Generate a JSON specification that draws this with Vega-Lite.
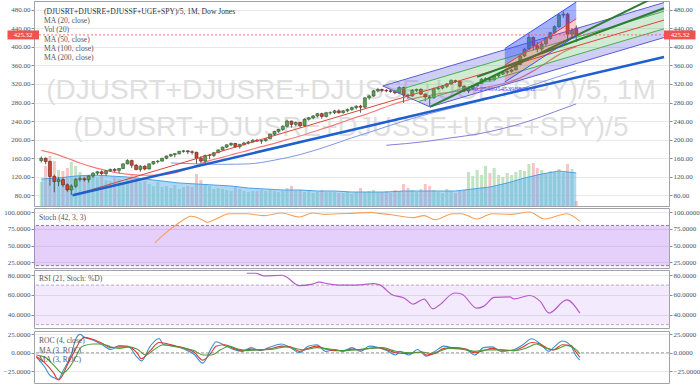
{
"$schema": "https://vega.github.io/schema/vega-lite/v6.json",
"background": "#ffffff",
"padding": 0,
"spacing": 0,
"resolve": {"scale": {"color": "independent"}},
"config": {
  "view": {"stroke": "#a0a3ab", "strokeWidth": 1},
  "axis": {"labelFont": "Liberation Sans Narrow", "labelFontSize": 7, "labelColor": "#4c525e", "gridColor": "#e8e8e8", "gridWidth": 1, "tickColor": "#8a8d94", "tickSize": 3, "domain": false, "labelPadding": 1, "title": null}
},
"datasets": {
"candles": [
{"d":"2008-08-01","o":155,"h":164,"l":151,"c":160,"v":24},
{"d":"2008-09-01","o":160,"h":162,"l":147,"c":153,"v":40},
{"d":"2008-10-01","o":153,"h":155,"l":101,"c":121,"v":50},
{"d":"2008-11-01","o":121,"h":125,"l":87,"c":110,"v":45},
{"d":"2008-12-01","o":110,"h":120,"l":100,"c":114,"v":36},
{"d":"2009-01-01","o":114,"h":118,"l":98,"c":103,"v":35},
{"d":"2009-02-01","o":103,"h":106,"l":88,"c":92,"v":38},
{"d":"2009-03-01","o":92,"h":104,"l":81,"c":100,"v":44},
{"d":"2009-04-01","o":100,"h":117,"l":96,"c":115,"v":40},
{"d":"2009-05-01","o":115,"h":121,"l":110,"c":116,"v":34},
{"d":"2009-06-01","o":116,"h":119,"l":110,"c":114,"v":30},
{"d":"2009-07-01","o":114,"h":123,"l":108,"c":122,"v":30},
{"d":"2009-08-01","o":122,"h":130,"l":118,"c":128,"v":31},
{"d":"2009-09-01","o":128,"h":133,"l":124,"c":131,"v":28},
{"d":"2009-10-01","o":131,"h":134,"l":124,"c":127,"v":30},
{"d":"2009-11-01","o":127,"h":134,"l":122,"c":133,"v":26},
{"d":"2009-12-01","o":133,"h":138,"l":131,"c":136,"v":25},
{"d":"2010-01-01","o":136,"h":139,"l":130,"c":134,"v":29},
{"d":"2010-02-01","o":134,"h":139,"l":128,"c":138,"v":27},
{"d":"2010-03-01","o":138,"h":149,"l":137,"c":148,"v":24},
{"d":"2010-04-01","o":148,"h":158,"l":147,"c":155,"v":27},
{"d":"2010-05-01","o":155,"h":157,"l":139,"c":145,"v":31},
{"d":"2010-06-01","o":145,"h":148,"l":134,"c":136,"v":28},
{"d":"2010-07-01","o":136,"h":145,"l":131,"c":143,"v":24},
{"d":"2010-08-01","o":143,"h":145,"l":134,"c":137,"v":25},
{"d":"2010-09-01","o":137,"h":149,"l":136,"c":148,"v":22},
{"d":"2010-10-01","o":148,"h":154,"l":146,"c":153,"v":20},
{"d":"2010-11-01","o":153,"h":156,"l":149,"c":154,"v":24},
{"d":"2010-12-01","o":154,"h":161,"l":153,"c":160,"v":19},
{"d":"2011-01-01","o":160,"h":166,"l":158,"c":165,"v":20},
{"d":"2011-02-01","o":165,"h":170,"l":163,"c":168,"v":18},
{"d":"2011-03-01","o":168,"h":171,"l":162,"c":170,"v":21},
{"d":"2011-04-01","o":170,"h":176,"l":168,"c":175,"v":17},
{"d":"2011-05-01","o":175,"h":178,"l":172,"c":176,"v":19},
{"d":"2011-06-01","o":176,"h":177,"l":169,"c":174,"v":20},
{"d":"2011-07-01","o":174,"h":177,"l":168,"c":173,"v":19},
{"d":"2011-08-01","o":173,"h":174,"l":148,"c":160,"v":32},
{"d":"2011-09-01","o":160,"h":165,"l":150,"c":154,"v":26},
{"d":"2011-10-01","o":154,"h":168,"l":145,"c":166,"v":22},
{"d":"2011-11-01","o":166,"h":169,"l":158,"c":166,"v":20},
{"d":"2011-12-01","o":166,"h":173,"l":163,"c":172,"v":17},
{"d":"2012-01-01","o":172,"h":179,"l":171,"c":178,"v":18},
{"d":"2012-02-01","o":178,"h":185,"l":176,"c":184,"v":17},
{"d":"2012-03-01","o":184,"h":190,"l":182,"c":189,"v":16},
{"d":"2012-04-01","o":189,"h":194,"l":186,"c":192,"v":15},
{"d":"2012-05-01","o":192,"h":193,"l":182,"c":185,"v":19},
{"d":"2012-06-01","o":185,"h":191,"l":181,"c":190,"v":17},
{"d":"2012-07-01","o":190,"h":195,"l":187,"c":193,"v":15},
{"d":"2012-08-01","o":193,"h":197,"l":190,"c":195,"v":14},
{"d":"2012-09-01","o":195,"h":201,"l":194,"c":199,"v":15},
{"d":"2012-10-01","o":199,"h":202,"l":195,"c":197,"v":15},
{"d":"2012-11-01","o":197,"h":199,"l":191,"c":198,"v":16},
{"d":"2012-12-01","o":198,"h":203,"l":196,"c":202,"v":15},
{"d":"2013-01-01","o":202,"h":213,"l":201,"c":212,"v":16},
{"d":"2013-02-01","o":212,"h":219,"l":209,"c":218,"v":15},
{"d":"2013-03-01","o":218,"h":223,"l":215,"c":222,"v":14},
{"d":"2013-04-01","o":222,"h":231,"l":219,"c":229,"v":15},
{"d":"2013-05-01","o":229,"h":243,"l":226,"c":240,"v":18},
{"d":"2013-06-01","o":240,"h":241,"l":226,"c":233,"v":20},
{"d":"2013-07-01","o":233,"h":239,"l":229,"c":237,"v":15},
{"d":"2013-08-01","o":237,"h":238,"l":226,"c":230,"v":16},
{"d":"2013-09-01","o":230,"h":246,"l":228,"c":244,"v":14},
{"d":"2013-10-01","o":244,"h":249,"l":241,"c":247,"v":15},
{"d":"2013-11-01","o":247,"h":253,"l":244,"c":251,"v":13},
{"d":"2013-12-01","o":251,"h":257,"l":248,"c":256,"v":14},
{"d":"2014-01-01","o":256,"h":258,"l":245,"c":250,"v":16},
{"d":"2014-02-01","o":250,"h":260,"l":248,"c":258,"v":14},
{"d":"2014-03-01","o":258,"h":261,"l":254,"c":258,"v":14},
{"d":"2014-04-01","o":258,"h":264,"l":255,"c":262,"v":14},
{"d":"2014-05-01","o":262,"h":265,"l":256,"c":258,"v":13},
{"d":"2014-06-01","o":258,"h":264,"l":256,"c":262,"v":13},
{"d":"2014-07-01","o":262,"h":267,"l":259,"c":265,"v":14},
{"d":"2014-08-01","o":265,"h":271,"l":262,"c":269,"v":12},
{"d":"2014-09-01","o":269,"h":274,"l":265,"c":272,"v":14},
{"d":"2014-10-01","o":272,"h":275,"l":258,"c":270,"v":18},
{"d":"2014-11-01","o":270,"h":292,"l":268,"c":290,"v":14},
{"d":"2014-12-01","o":290,"h":297,"l":286,"c":294,"v":15},
{"d":"2015-01-01","o":294,"h":307,"l":292,"c":305,"v":16},
{"d":"2015-02-01","o":305,"h":311,"l":302,"c":308,"v":14},
{"d":"2015-03-01","o":308,"h":310,"l":302,"c":306,"v":14},
{"d":"2015-04-01","o":306,"h":309,"l":302,"c":305,"v":15},
{"d":"2015-05-01","o":305,"h":308,"l":301,"c":304,"v":13},
{"d":"2015-06-01","o":304,"h":306,"l":298,"c":301,"v":16},
{"d":"2015-07-01","o":301,"h":315,"l":299,"c":312,"v":15},
{"d":"2015-08-01","o":312,"h":314,"l":279,"c":296,"v":22},
{"d":"2015-09-01","o":296,"h":299,"l":287,"c":294,"v":18},
{"d":"2015-10-01","o":294,"h":309,"l":292,"c":306,"v":16},
{"d":"2015-11-01","o":306,"h":310,"l":302,"c":308,"v":14},
{"d":"2015-12-01","o":308,"h":311,"l":296,"c":298,"v":17},
{"d":"2016-01-01","o":298,"h":300,"l":283,"c":292,"v":22},
{"d":"2016-02-01","o":292,"h":295,"l":272,"c":290,"v":20},
{"d":"2016-03-01","o":290,"h":312,"l":288,"c":310,"v":16},
{"d":"2016-04-01","o":310,"h":314,"l":307,"c":311,"v":14},
{"d":"2016-05-01","o":311,"h":317,"l":308,"c":315,"v":13},
{"d":"2016-06-01","o":315,"h":322,"l":311,"c":320,"v":17},
{"d":"2016-07-01","o":320,"h":330,"l":318,"c":327,"v":15},
{"d":"2016-08-01","o":327,"h":329,"l":322,"c":325,"v":13},
{"d":"2016-09-01","o":325,"h":327,"l":312,"c":315,"v":16},
{"d":"2016-10-01","o":315,"h":317,"l":302,"c":305,"v":16},
{"d":"2016-11-01","o":305,"h":313,"l":300,"c":310,"v":34},
{"d":"2016-12-01","o":310,"h":318,"l":307,"c":316,"v":30},
{"d":"2017-01-01","o":316,"h":323,"l":314,"c":321,"v":36},
{"d":"2017-02-01","o":321,"h":332,"l":320,"c":330,"v":31},
{"d":"2017-03-01","o":330,"h":334,"l":325,"c":331,"v":40},
{"d":"2017-04-01","o":331,"h":333,"l":324,"c":329,"v":33},
{"d":"2017-05-01","o":329,"h":339,"l":327,"c":337,"v":38},
{"d":"2017-06-01","o":337,"h":343,"l":334,"c":341,"v":31},
{"d":"2017-07-01","o":341,"h":347,"l":339,"c":345,"v":29},
{"d":"2017-08-01","o":345,"h":349,"l":340,"c":347,"v":33},
{"d":"2017-09-01","o":347,"h":352,"l":344,"c":350,"v":31},
{"d":"2017-10-01","o":350,"h":364,"l":349,"c":362,"v":34},
{"d":"2017-11-01","o":362,"h":382,"l":360,"c":380,"v":36},
{"d":"2017-12-01","o":380,"h":397,"l":378,"c":395,"v":35},
{"d":"2018-01-01","o":395,"h":428,"l":393,"c":420,"v":42},
{"d":"2018-02-01","o":420,"h":422,"l":392,"c":402,"v":43},
{"d":"2018-03-01","o":402,"h":410,"l":388,"c":395,"v":38},
{"d":"2018-04-01","o":395,"h":410,"l":390,"c":406,"v":36},
{"d":"2018-05-01","o":406,"h":420,"l":402,"c":418,"v":33},
{"d":"2018-06-01","o":418,"h":432,"l":415,"c":430,"v":35},
{"d":"2018-07-01","o":430,"h":446,"l":428,"c":443,"v":34},
{"d":"2018-08-01","o":443,"h":472,"l":440,"c":468,"v":37},
{"d":"2018-09-01","o":468,"h":476,"l":462,"c":470,"v":33},
{"d":"2018-10-01","o":470,"h":473,"l":412,"c":427,"v":42},
{"d":"2018-11-01","o":427,"h":440,"l":418,"c":435,"v":37},
{"d":"2018-12-01","o":440,"h":446,"l":410,"c":425.32,"v":5}
],
"volma": [
{"d":"2008-08-01","v":27},{"d":"2008-12-01","v":28},{"d":"2009-04-01","v":30},{"d":"2009-08-01","v":31},{"d":"2009-12-01","v":30},
{"d":"2010-04-01","v":29},{"d":"2010-08-01","v":27},{"d":"2010-12-01","v":25},{"d":"2011-04-01","v":23},{"d":"2011-08-01","v":22},
{"d":"2011-12-01","v":21},{"d":"2012-04-01","v":20},{"d":"2012-08-01","v":18},{"d":"2012-12-01","v":17},{"d":"2013-04-01","v":16},
{"d":"2013-08-01","v":16},{"d":"2013-12-01","v":15},{"d":"2014-04-01","v":15},{"d":"2014-08-01","v":14},{"d":"2014-12-01","v":14},
{"d":"2015-04-01","v":14},{"d":"2015-08-01","v":15},{"d":"2015-12-01","v":15},{"d":"2016-04-01","v":15},{"d":"2016-08-01","v":15},
{"d":"2016-12-01","v":17},{"d":"2017-04-01","v":19},{"d":"2017-08-01","v":23},{"d":"2017-12-01","v":28},{"d":"2018-04-01","v":32},
{"d":"2018-08-01","v":35},{"d":"2018-12-01","v":33}
],
"ma20": [
{"d":"2008-08-01","v":177},{"d":"2008-11-01","v":170},{"d":"2009-02-01","v":160},{"d":"2009-05-01","v":150},{"d":"2009-08-01","v":141},
{"d":"2009-11-01","v":134},{"d":"2010-02-01","v":128},{"d":"2010-05-01","v":125},{"d":"2010-08-01","v":123.5},{"d":"2010-11-01","v":124},
{"d":"2011-02-01","v":127},{"d":"2011-05-01","v":134},{"d":"2011-08-01","v":145},{"d":"2011-11-01","v":155},{"d":"2012-02-01","v":162},
{"d":"2012-05-01","v":170},{"d":"2012-08-01","v":177},{"d":"2012-11-01","v":185},{"d":"2013-02-01","v":192},{"d":"2013-05-01","v":200},
{"d":"2013-08-01","v":208},{"d":"2013-11-01","v":217},{"d":"2014-02-01","v":226},{"d":"2014-05-01","v":235},{"d":"2014-08-01","v":245},
{"d":"2014-11-01","v":254},{"d":"2015-02-01","v":264},{"d":"2015-05-01","v":274},{"d":"2015-08-01","v":283},{"d":"2015-11-01","v":290},
{"d":"2016-02-01","v":295},{"d":"2016-05-01","v":300},{"d":"2016-08-01","v":304},{"d":"2016-11-01","v":307},{"d":"2017-02-01","v":311},
{"d":"2017-05-01","v":316},{"d":"2017-08-01","v":323},{"d":"2017-11-01","v":333},{"d":"2018-02-01","v":348},{"d":"2018-05-01","v":365},
{"d":"2018-08-01","v":383},{"d":"2018-10-01","v":393},{"d":"2018-12-01","v":400}
],
"ma50": [
{"d":"2011-02-01","v":150},{"d":"2011-08-01","v":148},{"d":"2012-02-01","v":147},{"d":"2012-08-01","v":148},{"d":"2013-02-01","v":156},
{"d":"2013-08-01","v":168},{"d":"2014-02-01","v":185},{"d":"2014-08-01","v":204},{"d":"2015-02-01","v":222},{"d":"2015-08-01","v":240},
{"d":"2016-02-01","v":256},{"d":"2016-08-01","v":270},{"d":"2017-02-01","v":284},{"d":"2017-08-01","v":300},{"d":"2018-02-01","v":318},
{"d":"2018-08-01","v":336},{"d":"2018-12-01","v":348}
],
"ma100": [
{"d":"2015-04-01","v":188},{"d":"2016-01-01","v":196},{"d":"2016-07-01","v":204},{"d":"2017-01-01","v":212},{"d":"2017-07-01","v":224},
{"d":"2018-01-01","v":240},{"d":"2018-07-01","v":260},{"d":"2018-12-01","v":277}
],
"pfbands": [
{"d":"2015-03-07","s":"u","top":315.6,"bot":315.6},{"d":"2015-05-29","s":"u","top":323.2,"bot":304.3},{"d":"2020-08-11","s":"u","top":494.9,"bot":476.1},
{"d":"2015-05-29","s":"g","top":304.3,"bot":304.3},{"d":"2015-11-11","s":"g","top":319.4,"bot":281.8},{"d":"2020-08-11","s":"g","top":476.1,"bot":438.5},
{"d":"2015-11-11","s":"l","top":281.8,"bot":281.8},{"d":"2016-02-03","s":"l","top":289.3,"bot":270.5},{"d":"2020-08-11","s":"l","top":438.5,"bot":419.7}
],
"pflines": [
{"d":"2015-03-07","s":"tineU","v":315.6},{"d":"2020-08-11","s":"tineU","v":494.9},
{"d":"2015-03-07","s":"p23","v":315.6},{"d":"2016-02-03","s":"p23","v":270.5},
{"d":"2015-05-29","s":"halfU","v":304.3},{"d":"2020-08-11","s":"halfU","v":476.1},
{"d":"2015-11-11","s":"halfL","v":281.8},{"d":"2020-08-11","s":"halfL","v":438.5},
{"d":"2016-02-03","s":"tineL","v":270.5},{"d":"2020-08-11","s":"tineL","v":419.7},
{"d":"2009-03-10","s":"median","v":80.4},{"d":"2015-08-20","s":"median","v":292.9},{"d":"2020-08-11","s":"median","v":457.3}
],
"trend": [
{"d":"2009-03-10","s":"blue","v":80.4},{"d":"2020-08-11","s":"blue","v":377.8}
],
"greens": [
{"d":"2016-02-03","s":"g1","v":270.5},{"d":"2020-08-11","s":"g1","v":516},
{"d":"2017-01-01","s":"g2","v":335},{"d":"2020-08-11","s":"g2","v":482.6}
],
"regbands": [
{"d":"2017-07-15","s":"up","top":396,"bot":360},{"d":"2018-12-01","s":"up","top":496,"bot":460},
{"d":"2017-07-15","s":"low","top":360,"bot":324},{"d":"2018-12-01","s":"low","top":460,"bot":424}
],
"reglines": [
{"d":"2017-07-15","s":"up","v":396},{"d":"2018-12-01","s":"up","v":496},
{"d":"2017-07-15","s":"mid","v":360},{"d":"2018-12-01","s":"mid","v":460},
{"d":"2017-07-15","s":"low","v":324},{"d":"2018-12-01","s":"low","v":424}
],
"stoch": [
{"d":"2010-11-01","v":54},{"d":"2011-01-01","v":66},{"d":"2011-04-01","v":81},{"d":"2011-07-15","v":93.6},{"d":"2011-10-01","v":88},
{"d":"2011-11-01","v":84.6},{"d":"2012-01-01","v":89.6},{"d":"2012-04-01","v":97.5},{"d":"2012-08-01","v":97.5},{"d":"2012-12-01","v":94.6},
{"d":"2013-04-01","v":98.5},{"d":"2013-08-01","v":92.5},{"d":"2013-11-01","v":98.5},{"d":"2014-02-01","v":96.5},{"d":"2014-05-01","v":97.5},
{"d":"2014-08-01","v":98},{"d":"2014-12-15","v":99.5},{"d":"2015-02-01","v":98},{"d":"2015-05-01","v":96},{"d":"2015-10-01","v":91.6},
{"d":"2015-12-15","v":94.6},{"d":"2016-03-01","v":88.6},{"d":"2016-07-01","v":97.5},{"d":"2016-09-01","v":97.5},{"d":"2016-12-15","v":89.6},
{"d":"2017-04-01","v":97.5},{"d":"2017-08-01","v":96.5},{"d":"2017-12-15","v":100},{"d":"2018-04-01","v":89.6},{"d":"2018-09-01","v":97.5},
{"d":"2018-12-01","v":86}
],
"rsi": [
{"d":"2012-08-01","v":82},{"d":"2012-10-01","v":82},{"d":"2012-12-01","v":79.3},{"d":"2013-04-01","v":80},{"d":"2013-05-01","v":78.5},
{"d":"2013-08-01","v":69.5},{"d":"2013-11-01","v":71},{"d":"2013-12-15","v":73},{"d":"2014-03-01","v":71},{"d":"2014-05-01","v":70},
{"d":"2014-09-01","v":70},{"d":"2015-01-01","v":71.6},{"d":"2015-02-15","v":70},{"d":"2015-05-01","v":60.8},{"d":"2015-08-01","v":56.8},
{"d":"2015-10-01","v":50.8},{"d":"2015-12-15","v":55.8},{"d":"2016-02-15","v":46},{"d":"2016-04-01","v":50},{"d":"2016-07-15","v":62},
{"d":"2016-09-01","v":61},{"d":"2016-12-15","v":46.7},{"d":"2017-02-01","v":48.5},{"d":"2017-04-15","v":57.5},{"d":"2017-08-01","v":58},
{"d":"2017-09-01","v":56},{"d":"2017-12-15","v":59.5},{"d":"2018-03-01","v":53.5},{"d":"2018-05-01","v":41.7},{"d":"2018-09-01","v":55},
{"d":"2018-12-01","v":41.7}
],
"roc": [
{"d":"2008-08-01","s":"roc","v":-6},{"d":"2008-10-01","s":"roc","v":-20},{"d":"2008-11-01","s":"roc","v":-30},{"d":"2008-12-01","s":"roc","v":-34},{"d":"2009-01-01","s":"roc","v":-36},
{"d":"2009-02-01","s":"roc","v":-25},{"d":"2009-04-01","s":"roc","v":-2},{"d":"2009-05-01","s":"roc","v":18},{"d":"2009-06-01","s":"roc","v":25},{"d":"2009-07-01","s":"roc","v":21},
{"d":"2009-08-01","s":"roc","v":19},{"d":"2009-09-01","s":"roc","v":17},{"d":"2009-11-01","s":"roc","v":11},{"d":"2010-01-01","s":"roc","v":4.5},{"d":"2010-03-01","s":"roc","v":10},
{"d":"2010-05-01","s":"roc","v":9},{"d":"2010-07-01","s":"roc","v":-6},{"d":"2010-08-01","s":"roc","v":-11},{"d":"2010-10-01","s":"roc","v":9},{"d":"2010-12-01","s":"roc","v":19.5},
{"d":"2011-01-01","s":"roc","v":11},{"d":"2011-03-01","s":"roc","v":10},{"d":"2011-06-01","s":"roc","v":4.5},{"d":"2011-08-01","s":"roc","v":-2},{"d":"2011-10-01","s":"roc","v":-14},
{"d":"2011-12-01","s":"roc","v":7},{"d":"2012-01-01","s":"roc","v":15},{"d":"2012-03-01","s":"roc","v":10},{"d":"2012-05-01","s":"roc","v":4.5},{"d":"2012-07-01","s":"roc","v":2},
{"d":"2012-09-01","s":"roc","v":7},{"d":"2012-11-01","s":"roc","v":3},{"d":"2013-01-01","s":"roc","v":7},{"d":"2013-04-01","s":"roc","v":12},{"d":"2013-06-01","s":"roc","v":7},
{"d":"2013-08-01","s":"roc","v":0},{"d":"2013-10-01","s":"roc","v":9},{"d":"2013-12-01","s":"roc","v":11},{"d":"2014-02-01","s":"roc","v":2},{"d":"2014-04-01","s":"roc","v":4.5},
{"d":"2014-06-01","s":"roc","v":2},{"d":"2014-08-01","s":"roc","v":7},{"d":"2014-10-01","s":"roc","v":2},{"d":"2014-12-01","s":"roc","v":9},{"d":"2015-02-01","s":"roc","v":7},
{"d":"2015-04-01","s":"roc","v":3},{"d":"2015-06-01","s":"roc","v":-3},{"d":"2015-07-01","s":"roc","v":2},{"d":"2015-09-01","s":"roc","v":-3},{"d":"2015-11-01","s":"roc","v":4.5},
{"d":"2016-01-01","s":"roc","v":-4.5},{"d":"2016-03-01","s":"roc","v":2},{"d":"2016-05-01","s":"roc","v":9},{"d":"2016-07-01","s":"roc","v":7},{"d":"2016-10-01","s":"roc","v":4.5},
{"d":"2016-12-01","s":"roc","v":-3},{"d":"2017-02-01","s":"roc","v":7},{"d":"2017-04-01","s":"roc","v":8},{"d":"2017-06-01","s":"roc","v":2},{"d":"2017-09-01","s":"roc","v":4.5},
{"d":"2017-11-01","s":"roc","v":11},{"d":"2018-01-01","s":"roc","v":19},{"d":"2018-03-01","s":"roc","v":12},{"d":"2018-05-01","s":"roc","v":2},{"d":"2018-06-01","s":"roc","v":7},
{"d":"2018-08-01","s":"roc","v":16},{"d":"2018-10-01","s":"roc","v":9},{"d":"2018-11-01","s":"roc","v":-3},{"d":"2018-12-01","s":"roc","v":-10},
{"d":"2008-08-01","s":"ma","v":-5},{"d":"2008-10-01","s":"ma","v":-14},{"d":"2008-12-01","s":"ma","v":-28},{"d":"2009-01-01","s":"ma","v":-37},{"d":"2009-02-01","s":"ma","v":-30},
{"d":"2009-03-01","s":"ma","v":-18},{"d":"2009-05-01","s":"ma","v":5},{"d":"2009-06-01","s":"ma","v":16},{"d":"2009-07-01","s":"ma","v":21},{"d":"2009-09-01","s":"ma","v":18},
{"d":"2009-11-01","s":"ma","v":13},{"d":"2010-01-01","s":"ma","v":7},{"d":"2010-03-01","s":"ma","v":8},{"d":"2010-05-01","s":"ma","v":8},{"d":"2010-07-01","s":"ma","v":0},
{"d":"2010-08-01","s":"ma","v":-8},{"d":"2010-10-01","s":"ma","v":3},{"d":"2010-12-01","s":"ma","v":14},{"d":"2011-02-01","s":"ma","v":12},{"d":"2011-04-01","s":"ma","v":9},
{"d":"2011-06-01","s":"ma","v":6},{"d":"2011-08-01","s":"ma","v":1},{"d":"2011-10-01","s":"ma","v":-10},{"d":"2011-12-01","s":"ma","v":1},{"d":"2012-01-01","s":"ma","v":9},
{"d":"2012-03-01","s":"ma","v":11},{"d":"2012-05-01","s":"ma","v":6},{"d":"2012-07-01","s":"ma","v":3},{"d":"2012-09-01","s":"ma","v":5},{"d":"2012-11-01","s":"ma","v":4},
{"d":"2013-01-01","s":"ma","v":5},{"d":"2013-04-01","s":"ma","v":9},{"d":"2013-06-01","s":"ma","v":8},{"d":"2013-08-01","s":"ma","v":2},{"d":"2013-10-01","s":"ma","v":6},
{"d":"2013-12-01","s":"ma","v":9},{"d":"2014-02-01","s":"ma","v":5},{"d":"2014-04-01","s":"ma","v":3},{"d":"2014-06-01","s":"ma","v":3},{"d":"2014-08-01","s":"ma","v":5},
{"d":"2014-10-01","s":"ma","v":4},{"d":"2014-12-01","s":"ma","v":6},{"d":"2015-02-01","s":"ma","v":7},{"d":"2015-04-01","s":"ma","v":4},{"d":"2015-06-01","s":"ma","v":0},
{"d":"2015-08-01","s":"ma","v":-1},{"d":"2015-10-01","s":"ma","v":0},{"d":"2015-12-01","s":"ma","v":1},{"d":"2016-01-01","s":"ma","v":-3},{"d":"2016-03-01","s":"ma","v":-1},
{"d":"2016-05-01","s":"ma","v":6},{"d":"2016-07-01","s":"ma","v":7},{"d":"2016-10-01","s":"ma","v":5},{"d":"2016-12-01","s":"ma","v":0},{"d":"2017-02-01","s":"ma","v":3},
{"d":"2017-04-01","s":"ma","v":6},{"d":"2017-06-01","s":"ma","v":4},{"d":"2017-09-01","s":"ma","v":3},{"d":"2017-11-01","s":"ma","v":8},{"d":"2018-01-01","s":"ma","v":14},
{"d":"2018-03-01","s":"ma","v":12},{"d":"2018-05-01","s":"ma","v":5},{"d":"2018-06-01","s":"ma","v":4},{"d":"2018-08-01","s":"ma","v":11},{"d":"2018-10-01","s":"ma","v":10},
{"d":"2018-11-01","s":"ma","v":2},{"d":"2018-12-01","s":"ma","v":-6},
{"d":"2008-08-01","s":"ma2","v":-3},{"d":"2008-10-01","s":"ma2","v":-6},{"d":"2008-12-01","s":"ma2","v":-17},{"d":"2009-02-01","s":"ma2","v":-28},{"d":"2009-03-01","s":"ma2","v":-24},
{"d":"2009-05-01","s":"ma2","v":-6},{"d":"2009-06-01","s":"ma2","v":6},{"d":"2009-07-01","s":"ma2","v":10},{"d":"2009-09-01","s":"ma2","v":12},{"d":"2009-11-01","s":"ma2","v":12},
{"d":"2010-01-01","s":"ma2","v":8},{"d":"2010-03-01","s":"ma2","v":6},{"d":"2010-05-01","s":"ma2","v":8},{"d":"2010-07-01","s":"ma2","v":5},{"d":"2010-09-01","s":"ma2","v":-3},
{"d":"2010-11-01","s":"ma2","v":5},{"d":"2011-01-01","s":"ma2","v":11},{"d":"2011-03-01","s":"ma2","v":9},{"d":"2011-06-01","s":"ma2","v":6},{"d":"2011-08-01","s":"ma2","v":3},
{"d":"2011-10-01","s":"ma2","v":-3},{"d":"2011-12-01","s":"ma2","v":-3},{"d":"2012-02-01","s":"ma2","v":4},{"d":"2012-04-01","s":"ma2","v":9},{"d":"2012-06-01","s":"ma2","v":5},
{"d":"2012-08-01","s":"ma2","v":3},{"d":"2012-11-01","s":"ma2","v":4},{"d":"2013-02-01","s":"ma2","v":5},{"d":"2013-05-01","s":"ma2","v":8},{"d":"2013-07-01","s":"ma2","v":6},
{"d":"2013-09-01","s":"ma2","v":4},{"d":"2013-12-01","s":"ma2","v":7},{"d":"2014-03-01","s":"ma2","v":5},{"d":"2014-06-01","s":"ma2","v":3},{"d":"2014-09-01","s":"ma2","v":4},
{"d":"2014-12-01","s":"ma2","v":6},{"d":"2015-03-01","s":"ma2","v":7},{"d":"2015-06-01","s":"ma2","v":2},{"d":"2015-09-01","s":"ma2","v":0},{"d":"2015-12-01","s":"ma2","v":1},
{"d":"2016-02-01","s":"ma2","v":-1},{"d":"2016-04-01","s":"ma2","v":2},{"d":"2016-06-01","s":"ma2","v":6},{"d":"2016-09-01","s":"ma2","v":5},{"d":"2016-12-01","s":"ma2","v":2},
{"d":"2017-03-01","s":"ma2","v":4},{"d":"2017-06-01","s":"ma2","v":4},{"d":"2017-09-01","s":"ma2","v":3},{"d":"2017-12-01","s":"ma2","v":7},{"d":"2018-02-01","s":"ma2","v":12},
{"d":"2018-04-01","s":"ma2","v":7},{"d":"2018-06-01","s":"ma2","v":4},{"d":"2018-09-01","s":"ma2","v":10},{"d":"2018-11-01","s":"ma2","v":5},{"d":"2018-12-01","s":"ma2","v":-1}
]
},
"vconcat": [
{
"width": 635, "height": 205,
"resolve": {"scale": {"y": "independent", "color": "independent"}},
"layer": [
{"data": {"values": [{}]},
 "mark": {"type": "text", "text": "(DJUSRT+DJUSRE+DJUSSF+UGE+SPY)/5, 1M", "font": "Liberation Sans", "fontSize": 28, "fill": "#dfdfdf", "align": "center", "baseline": "middle"},
 "encoding": {
  "x": {"datum": {"year": 2014, "month": 7, "date": 26}, "type": "temporal", "scale": {"domain": [{"year": 2008, "month": 7, "date": 16}, {"year": 2020, "month": 8, "date": 11}], "nice": false},
        "axis": {"labels": false, "ticks": false, "domain": false, "grid": true, "tickCount": {"interval": "year", "step": 1}, "minExtent": 0, "maxExtent": 0}},
  "y": {"datum": 304.7, "type": "quantitative", "scale": {"domain": [57.4, 498.3], "nice": false, "zero": false},
        "axis": {"orient": "left", "values": [80, 120, 160, 200, 240, 280, 320, 360, 400, 440, 480], "format": ".2f", "grid": true, "minExtent": 33, "maxExtent": 33}}
 }},
{"data": {"values": [{}]},
 "mark": {"type": "text", "text": "(DJUSRT+DJUSRE+DJUSSF+UGE+SPY)/5", "font": "Liberation Sans", "fontSize": 28, "fill": "#dfdfdf", "align": "center", "baseline": "middle"},
 "encoding": {
  "x": {"datum": {"year": 2014, "month": 7, "date": 26}, "type": "temporal", "axis": null},
  "y": {"datum": 225, "type": "quantitative", "scale": {"domain": [57.4, 498.3], "nice": false, "zero": false},
        "axis": {"orient": "right", "values": [80, 120, 160, 200, 240, 280, 320, 360, 400, 440, 480], "format": ".2f", "grid": false, "minExtent": 32, "maxExtent": 32}}
 }},
{"data": {"name": "candles"},
 "mark": {"type": "bar", "size": 3},
 "encoding": {
  "x": {"field": "d", "type": "temporal", "axis": null},
  "y": {"field": "v", "type": "quantitative", "scale": {"domain": [0, 205], "nice": false}, "axis": null},
  "color": {"condition": {"test": "datum.c >= datum.o", "value": "#bfe3c3"}, "value": "#f5c4c4"}
 }},
{"data": {"name": "volma"},
 "mark": {"type": "area", "color": "#5fb2ee", "opacity": 0.5, "line": {"color": "#4aa3e6", "strokeWidth": 1}},
 "encoding": {
  "x": {"field": "d", "type": "temporal", "axis": null},
  "y": {"field": "v", "type": "quantitative", "scale": {"domain": [0, 205], "nice": false}, "axis": null}
 }},
{"data": {"name": "ma20"},
 "mark": {"type": "line", "color": "#f77a7a", "strokeWidth": 1.2, "interpolate": "monotone"},
 "encoding": {
  "x": {"field": "d", "type": "temporal", "axis": null},
  "y": {"field": "v", "type": "quantitative", "scale": {"domain": [57.4, 498.3], "nice": false, "zero": false}, "axis": null}
 }},
{"data": {"name": "ma50"},
 "mark": {"type": "line", "color": "#7f98e6", "strokeWidth": 1, "interpolate": "monotone"},
 "encoding": {
  "x": {"field": "d", "type": "temporal", "axis": null},
  "y": {"field": "v", "type": "quantitative", "scale": {"domain": [57.4, 498.3], "nice": false, "zero": false}, "axis": null}
 }},
{"data": {"name": "ma100"},
 "mark": {"type": "line", "color": "#8880d6", "strokeWidth": 1, "interpolate": "monotone"},
 "encoding": {
  "x": {"field": "d", "type": "temporal", "axis": null},
  "y": {"field": "v", "type": "quantitative", "scale": {"domain": [57.4, 498.3], "nice": false, "zero": false}, "axis": null}
 }},
{"data": {"name": "candles"},
 "mark": {"type": "rule", "color": "#5d5d5d", "strokeWidth": 1},
 "encoding": {
  "x": {"field": "d", "type": "temporal", "axis": null},
  "y": {"field": "l", "type": "quantitative", "scale": {"domain": [57.4, 498.3], "nice": false, "zero": false}, "axis": null},
  "y2": {"field": "h"}
 }},
{"data": {"name": "candles"},
 "mark": {"type": "bar", "size": 3, "strokeWidth": 0.6},
 "encoding": {
  "x": {"field": "d", "type": "temporal", "axis": null},
  "y": {"field": "o", "type": "quantitative", "scale": {"domain": [57.4, 498.3], "nice": false, "zero": false}, "axis": null},
  "y2": {"field": "c"},
  "fill": {"condition": {"test": "datum.c >= datum.o", "value": "#5e9e57"}, "value": "#cf4433"},
  "stroke": {"condition": {"test": "datum.c >= datum.o", "value": "#2b5a2a"}, "value": "#6b1e14"}
 }},
{"data": {"name": "pfbands"},
 "mark": {"type": "area", "clip": true},
 "encoding": {
  "x": {"field": "d", "type": "temporal", "axis": null},
  "y": {"field": "top", "type": "quantitative", "stack": null, "scale": {"domain": [57.4, 498.3], "nice": false, "zero": false}, "axis": null},
  "y2": {"field": "bot"},
  "color": {"field": "s", "type": "nominal", "scale": {"domain": ["u", "g", "l"], "range": ["rgba(92,92,226,0.3)", "rgba(76,175,80,0.26)", "rgba(92,92,226,0.3)"]}, "legend": null}
 }},
{"data": {"name": "pflines"},
 "mark": {"type": "line", "strokeWidth": 1, "clip": true},
 "encoding": {
  "x": {"field": "d", "type": "temporal", "axis": null},
  "y": {"field": "v", "type": "quantitative", "scale": {"domain": [57.4, 498.3], "nice": false, "zero": false}, "axis": null},
  "color": {"field": "s", "type": "nominal", "scale": {"domain": ["tineU", "p23", "halfU", "halfL", "tineL", "median"], "range": ["#5a5bd4", "#5a5bd4", "#4caf50", "#4caf50", "#5a5bd4", "#d9453c"]}, "legend": null}
 }},
{"data": {"name": "trend"},
 "mark": {"type": "line", "strokeWidth": 2.5, "color": "#1f5fcf", "clip": true},
 "encoding": {
  "x": {"field": "d", "type": "temporal", "axis": null},
  "y": {"field": "v", "type": "quantitative", "scale": {"domain": [57.4, 498.3], "nice": false, "zero": false}, "axis": null}
 }},
{"data": {"name": "greens"},
 "mark": {"type": "line", "strokeWidth": 2, "color": "#2e7d32", "clip": true},
 "encoding": {
  "x": {"field": "d", "type": "temporal", "axis": null},
  "y": {"field": "v", "type": "quantitative", "scale": {"domain": [57.4, 498.3], "nice": false, "zero": false}, "axis": null},
  "detail": {"field": "s"}
 }},
{"data": {"name": "regbands"},
 "mark": {"type": "area", "clip": true},
 "encoding": {
  "x": {"field": "d", "type": "temporal", "axis": null},
  "y": {"field": "top", "type": "quantitative", "stack": null, "scale": {"domain": [57.4, 498.3], "nice": false, "zero": false}, "axis": null},
  "y2": {"field": "bot"},
  "color": {"field": "s", "type": "nominal", "scale": {"domain": ["up", "low"], "range": ["rgba(52,82,250,0.45)", "rgba(242,54,69,0.25)"]}, "legend": null}
 }},
{"data": {"name": "reglines"},
 "mark": {"type": "line", "strokeWidth": 1, "clip": true},
 "encoding": {
  "x": {"field": "d", "type": "temporal", "axis": null},
  "y": {"field": "v", "type": "quantitative", "scale": {"domain": [57.4, 498.3], "nice": false, "zero": false}, "axis": null},
  "color": {"field": "s", "type": "nominal", "scale": {"domain": ["up", "mid", "low"], "range": ["#3f51f5", "#f23645", "#3f51f5"]}, "legend": null}
 }},
{"data": {"values": [{}]},
 "mark": {"type": "text", "text": "0.2548954539882532", "font": "Liberation Sans Narrow", "fontSize": 7, "fill": "#3f51f5", "align": "center", "baseline": "middle"},
 "encoding": {
  "x": {"datum": {"year": 2017, "month": 7, "date": 15}, "type": "temporal", "axis": null},
  "y": {"datum": 309, "type": "quantitative", "scale": {"domain": [57.4, 498.3], "nice": false, "zero": false}, "axis": null}
 }},
{"data": {"values": [{}]},
 "mark": {"type": "rule", "color": "#ef5350", "strokeWidth": 0.8, "strokeDash": [2, 2]},
 "encoding": {
  "y": {"datum": 425.32, "type": "quantitative", "scale": {"domain": [57.4, 498.3], "nice": false, "zero": false}, "axis": null}
 }},
{"data": {"values": [{}]},
 "mark": {"type": "point", "shape": "M-2.1,-0.3H0V0.3H-2.1Z", "size": 900, "filled": true, "fill": "#ef5350", "strokeWidth": 0, "opacity": 1},
 "encoding": {
  "x": {"datum": {"year": 2008, "month": 7, "date": 16}, "type": "temporal", "axis": null},
  "y": {"datum": 425.32, "type": "quantitative", "scale": {"domain": [57.4, 498.3], "nice": false, "zero": false}, "axis": null}
 }},
{"data": {"values": [{}]},
 "mark": {"type": "point", "shape": "M0,-0.3H2.1V0.3H0Z", "size": 900, "filled": true, "fill": "#ef5350", "strokeWidth": 0, "opacity": 1},
 "encoding": {
  "x": {"datum": {"year": 2020, "month": 8, "date": 11}, "type": "temporal", "axis": null},
  "y": {"datum": 425.32, "type": "quantitative", "scale": {"domain": [57.4, 498.3], "nice": false, "zero": false}, "axis": null}
 }},
{"data": {"values": [{}]},
 "mark": {"type": "text", "text": "425.32", "font": "Liberation Sans Narrow", "fontSize": 6.8, "fill": "#ffffff", "align": "center", "baseline": "middle", "dx": -16},
 "encoding": {
  "x": {"datum": {"year": 2008, "month": 7, "date": 16}, "type": "temporal", "axis": null},
  "y": {"datum": 425.32, "type": "quantitative", "scale": {"domain": [57.4, 498.3], "nice": false, "zero": false}, "axis": null}
 }},
{"data": {"values": [{}]},
 "mark": {"type": "text", "text": "425.32", "font": "Liberation Sans Narrow", "fontSize": 6.8, "fill": "#ffffff", "align": "center", "baseline": "middle", "dx": 16},
 "encoding": {
  "x": {"datum": {"year": 2020, "month": 8, "date": 11}, "type": "temporal", "axis": null},
  "y": {"datum": 425.32, "type": "quantitative", "scale": {"domain": [57.4, 498.3], "nice": false, "zero": false}, "axis": null}
 }},
{"data": {"values": [{}]},
 "mark": {"type": "text", "text": "(DJUSRT+DJUSRE+DJUSSF+UGE+SPY)/5, 1M, Dow Jones", "font": "Liberation Sans Narrow", "fontSize": 7.6, "fill": "#2f3239", "align": "left", "baseline": "middle", "dx": 5},
 "encoding": {
  "x": {"datum": {"year": 2008, "month": 7, "date": 16}, "type": "temporal", "axis": null},
  "y": {"datum": 475.3, "type": "quantitative", "scale": {"domain": [57.4, 498.3], "nice": false, "zero": false}, "axis": null}
 }},
{"data": {"values": [{}]},
 "mark": {"type": "text", "text": ["MA (20, close)", "Vol (20)", "MA (50, close)", "MA (100, close)", "MA (200, close)"], "lineHeight": 9.3, "font": "Liberation Sans Narrow", "fontSize": 7.6, "fill": "#555860", "align": "left", "baseline": "top", "dx": 5},
 "encoding": {
  "x": {"datum": {"year": 2008, "month": 7, "date": 16}, "type": "temporal", "axis": null},
  "y": {"datum": 463.5, "type": "quantitative", "scale": {"domain": [57.4, 498.3], "nice": false, "zero": false}, "axis": null}
 }}
]
},
{
"width": 635, "height": 60,
"resolve": {"scale": {"y": "independent"}},
"layer": [
{"data": {"values": [{}]},
 "mark": {"type": "rect", "color": "#a050f0", "opacity": 0.27},
 "encoding": {
  "y": {"datum": 20, "type": "quantitative", "scale": {"domain": [16.5, 106], "nice": false, "zero": false},
        "axis": {"orient": "left", "values": [25, 50, 75, 100], "format": ".4f", "grid": true, "minExtent": 33, "maxExtent": 33}},
  "y2": {"datum": 80}
 }},
{"data": {"values": [{"v": 80}, {"v": 20}]},
 "mark": {"type": "rule", "color": "#8e7aa0", "strokeWidth": 1, "strokeDash": [3, 2]},
 "encoding": {
  "y": {"field": "v", "type": "quantitative", "scale": {"domain": [16.5, 106], "nice": false, "zero": false},
        "axis": {"orient": "right", "values": [25, 50, 75, 100], "format": ".4f", "grid": false, "minExtent": 32, "maxExtent": 32}}
 }},
{"data": {"name": "stoch"},
 "mark": {"type": "line", "color": "#f5a05a", "strokeWidth": 1.1, "interpolate": "monotone"},
 "encoding": {
  "x": {"field": "d", "type": "temporal", "scale": {"domain": [{"year": 2008, "month": 7, "date": 16}, {"year": 2020, "month": 8, "date": 11}], "nice": false},
        "axis": {"labels": false, "ticks": false, "domain": false, "grid": true, "tickCount": {"interval": "year", "step": 1}, "minExtent": 0, "maxExtent": 0}},
  "y": {"field": "v", "type": "quantitative", "scale": {"domain": [16.5, 106], "nice": false, "zero": false}, "axis": null}
 }},
{"data": {"values": [{}]},
 "mark": {"type": "text", "text": "Stoch (42, 3, 3)", "font": "Liberation Sans Narrow", "fontSize": 7.6, "fill": "#555860", "align": "left", "baseline": "middle", "dx": 5},
 "encoding": {
  "x": {"datum": {"year": 2008, "month": 7, "date": 16}, "type": "temporal", "axis": null},
  "y": {"datum": 91, "type": "quantitative", "scale": {"domain": [16.5, 106], "nice": false, "zero": false}, "axis": null}
 }}
]
},
{
"width": 635, "height": 58,
"resolve": {"scale": {"y": "independent"}},
"layer": [
{"data": {"values": [{}]},
 "mark": {"type": "rect", "color": "#a050f0", "opacity": 0.12},
 "encoding": {
  "y": {"datum": 30, "type": "quantitative", "scale": {"domain": [26.6, 85.3], "nice": false, "zero": false},
        "axis": {"orient": "left", "values": [40, 60, 80], "format": ".4f", "grid": true, "minExtent": 33, "maxExtent": 33}},
  "y2": {"datum": 70}
 }},
{"data": {"values": [{"v": 70}, {"v": 30}]},
 "mark": {"type": "rule", "color": "#b9a8c8", "strokeWidth": 1, "strokeDash": [3, 2]},
 "encoding": {
  "y": {"field": "v", "type": "quantitative", "scale": {"domain": [26.6, 85.3], "nice": false, "zero": false},
        "axis": {"orient": "right", "values": [40, 60, 80], "format": ".4f", "grid": false, "minExtent": 32, "maxExtent": 32}}
 }},
{"data": {"name": "rsi"},
 "mark": {"type": "line", "color": "#b45cc8", "strokeWidth": 1.2, "interpolate": "monotone"},
 "encoding": {
  "x": {"field": "d", "type": "temporal", "scale": {"domain": [{"year": 2008, "month": 7, "date": 16}, {"year": 2020, "month": 8, "date": 11}], "nice": false},
        "axis": {"labels": false, "ticks": false, "domain": false, "grid": true, "tickCount": {"interval": "year", "step": 1}, "minExtent": 0, "maxExtent": 0}},
  "y": {"field": "v", "type": "quantitative", "scale": {"domain": [26.6, 85.3], "nice": false, "zero": false}, "axis": null}
 }},
{"data": {"values": [{}]},
 "mark": {"type": "text", "text": "RSI (21, Stoch: %D)", "font": "Liberation Sans Narrow", "fontSize": 7.6, "fill": "#555860", "align": "left", "baseline": "middle", "dx": 5},
 "encoding": {
  "x": {"datum": {"year": 2008, "month": 7, "date": 16}, "type": "temporal", "axis": null},
  "y": {"datum": 76, "type": "quantitative", "scale": {"domain": [26.6, 85.3], "nice": false, "zero": false}, "axis": null}
 }}
]
},
{
"width": 635, "height": 52,
"resolve": {"scale": {"y": "independent", "color": "independent"}},
"layer": [
{"data": {"values": [{}]},
 "mark": {"type": "rule", "color": "#b8b8b8", "strokeWidth": 1, "strokeDash": [3, 2]},
 "encoding": {
  "y": {"datum": 0, "type": "quantitative", "scale": {"domain": [-41, 29.6], "nice": false, "zero": false},
        "axis": {"orient": "left", "values": [-25, 0, 25], "format": ".4f", "grid": true, "minExtent": 33, "maxExtent": 33}}
 }},
{"data": {"values": [{}]},
 "mark": {"type": "rule", "color": "#b8b8b8", "strokeWidth": 1, "strokeDash": [3, 2]},
 "encoding": {
  "y": {"datum": 0, "type": "quantitative", "scale": {"domain": [-41, 29.6], "nice": false, "zero": false},
        "axis": {"orient": "right", "values": [-25, 0, 25], "format": ".4f", "grid": false, "minExtent": 32, "maxExtent": 32}}
 }},
{"data": {"name": "roc"},
 "mark": {"type": "line", "strokeWidth": 1.1, "interpolate": "monotone"},
 "encoding": {
  "x": {"field": "d", "type": "temporal", "scale": {"domain": [{"year": 2008, "month": 7, "date": 16}, {"year": 2020, "month": 8, "date": 11}], "nice": false},
        "axis": {"format": "%Y", "labels": true, "ticks": true, "tickSize": 3, "domain": false, "grid": true, "tickCount": {"interval": "year", "step": 1}, "labelFontSize": 7, "labelPadding": 2, "minExtent": 16, "maxExtent": 16}},
  "y": {"field": "v", "type": "quantitative", "scale": {"domain": [-41, 29.6], "nice": false, "zero": false}, "axis": null},
  "color": {"field": "s", "type": "nominal", "scale": {"domain": ["roc", "ma", "ma2"], "range": ["#3d8fd1", "#d93a2f", "#4f9a3e"]}, "legend": null}
 }},
{"data": {"values": [{}]},
 "mark": {"type": "text", "text": ["ROC (4, close)", "MA (3, ROC)", "MA (3, ROC)"], "lineHeight": 9.2, "font": "Liberation Sans Narrow", "fontSize": 7.6, "fill": "#555860", "align": "left", "baseline": "top", "dx": 5},
 "encoding": {
  "x": {"datum": {"year": 2008, "month": 7, "date": 16}, "type": "temporal", "axis": null},
  "y": {"datum": 21, "type": "quantitative", "scale": {"domain": [-41, 29.6], "nice": false, "zero": false}, "axis": null}
 }}
]
}
]
}
